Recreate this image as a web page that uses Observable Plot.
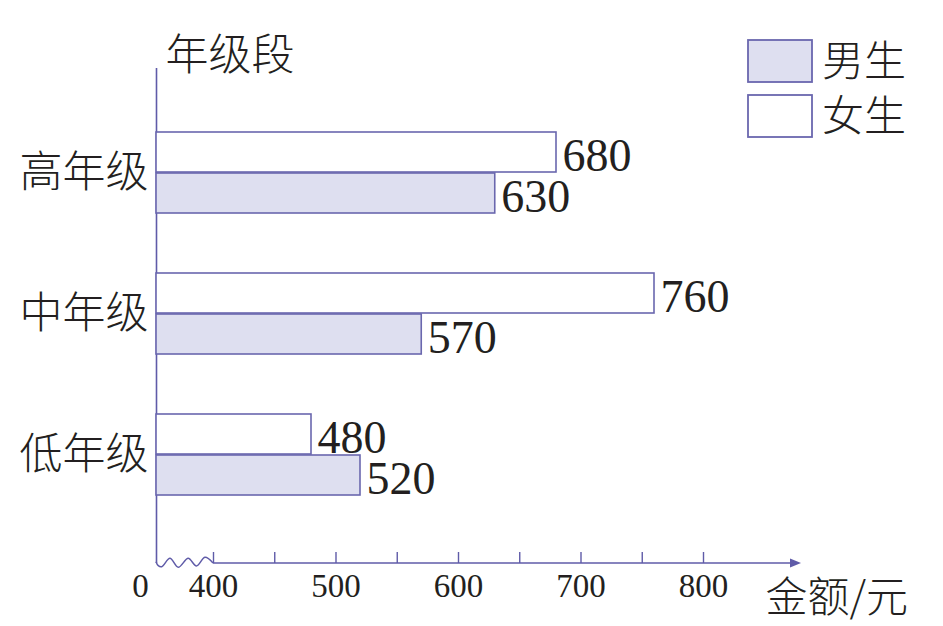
<!DOCTYPE html>
<html>
<head>
<meta charset="utf-8">
<script src="https://cdn.jsdelivr.net/npm/d3@7"></script>
<script src="https://cdn.jsdelivr.net/npm/@observablehq/plot@0.6"></script>
<style>
  html, body { margin: 0; padding: 0; background: #fff; }
  #chart svg { display: block; }
</style>
</head>
<body>
<div id="chart"></div>
<script>
// ---- data ----
const grades = ["高年级", "中年级", "低年级"];
const boys = [630, 570, 520];   // 男生
const girls = [680, 760, 480];  // 女生
const series = ["男生", "女生"];
const minorTicks = [400, 450, 500, 550, 600, 650, 700, 750, 800];
const tickLabels = [400, 500, 600, 700, 800];
const zeroLabel = [0];
const yTitle = "年级段";
const xTitle = "金额/元";

// ---- styles ----
const axisColor = "#5f5ba8";
const barStroke = "#6a67ae";
const boyFill = "#dedff0";
const girlFill = "#ffffff";
const textColor = "#231f20";
const SERIF = "Liberation Serif";
const CJK = "Noto Sans CJK SC";

const boyRows = grades.map((g, i) => ({grade: g, value: boys[i]}));
const girlRows = grades.map((g, i) => ({grade: g, value: girls[i]}));

const W = 943, H = 626;
const mL = 156, mR = 137, mT = 68, mB = 63;
const frameH = H - mT - mB;

const plot = Plot.plot({
  width: W,
  height: H,
  marginLeft: mL,
  marginRight: mR,
  marginTop: mT,
  marginBottom: mB,
  style: {background: "#fff", overflow: "visible", fontFamily: SERIF},
  x: {type: "linear", domain: [0, 400, 880], range: [156, 213, 801], axis: null},
  y: {type: "band", domain: grades, range: [101, 526], padding: 0, axis: null},
  marks: [
    Plot.ruleX([0], {stroke: axisColor, strokeWidth: 1.6}),
    Plot.ruleX(minorTicks, {x: d => d, stroke: axisColor, strokeWidth: 1.4, insetTop: frameH - 11}),
    Plot.barX(girlRows, {x: "value", y: "grade", fill: girlFill, stroke: barStroke, strokeWidth: 1.6, insetTop: 30, insetBottom: 71}),
    Plot.barX(boyRows, {x: "value", y: "grade", fill: boyFill, stroke: barStroke, strokeWidth: 1.6, insetTop: 71, insetBottom: 30}),
    Plot.text(girlRows, {x: "value", y: "grade", text: d => String(d.value), textAnchor: "start", lineAnchor: "middle", dx: 6, dy: -17, fontSize: 46, fill: textColor, fontFamily: SERIF}),
    Plot.text(boyRows, {x: "value", y: "grade", text: d => String(d.value), textAnchor: "start", lineAnchor: "middle", dx: 6, dy: 24, fontSize: 46, fill: textColor, fontFamily: SERIF}),
    Plot.axisY({tickSize: 0, tickPadding: 8, fontSize: 43, color: textColor, label: null, fontFamily: CJK, fontWeight: 300}),
    Plot.text(tickLabels, {x: d => d, text: d => String(d), frameAnchor: "bottom", lineAnchor: "middle", dy: 23, fontSize: 33, fill: textColor, fontFamily: SERIF}),
    Plot.text(zeroLabel, {x: d => d, text: d => String(d), frameAnchor: "bottom", lineAnchor: "middle", dy: 23, dx: -16, fontSize: 33, fill: textColor, fontFamily: SERIF}),
    Plot.text([yTitle], {text: d => d, frameAnchor: "top-left", textAnchor: "start", lineAnchor: "middle", dx: 9, dy: -12, fontSize: 43, fill: textColor, fontFamily: CJK, fontWeight: 300}),
    Plot.text([xTitle], {text: d => d, frameAnchor: "bottom-right", textAnchor: "start", lineAnchor: "middle", dx: -41, dy: 35, fontSize: 42, fill: textColor, fontFamily: CJK, fontWeight: 300})
  ]
});

document.getElementById("chart").appendChild(plot);

const svg = d3.select(plot);

// ---- decorations drawn from the plot's x scale ----
const sx = plot.scale("x").apply;
const yb = H - mB;
const x0 = sx(0), x400 = sx(400), xEnd = sx(880);

svg.append("line")
  .attr("x1", x400).attr("x2", xEnd - 6).attr("y1", yb).attr("y2", yb)
  .attr("stroke", axisColor).attr("stroke-width", 1.6);
svg.append("path")
  .attr("d", `M${xEnd},${yb} L${xEnd - 11},${yb - 4.5} L${xEnd - 11},${yb + 4.5} Z`)
  .attr("fill", axisColor);

const span = x400 - x0;
const zig = [
  [0, -1.3], [0.04, 2.7], [0.1, 3.7], [0.245, -4.7], [0.39, 4.3],
  [0.565, -4.7], [0.71, 3], [0.86, -5.7], [1, 0]
];
svg.append("path")
  .attr("d", d3.line().curve(d3.curveCatmullRom.alpha(0.5))(zig.map(([t, o]) => [x0 + t * span, yb + o])))
  .attr("fill", "none").attr("stroke", axisColor).attr("stroke-width", 1.5);

// legend
const legendFills = [boyFill, girlFill];
const lg = svg.append("g").attr("text-anchor", "start");
series.forEach((s, i) => {
  const top = 40 + i * 55;
  lg.append("rect")
    .attr("x", 748).attr("y", top).attr("width", 64).attr("height", 42)
    .attr("fill", legendFills[i]).attr("stroke", barStroke).attr("stroke-width", 1.8);
  lg.append("text")
    .attr("x", 822).attr("y", top + 21)
    .attr("dy", "0.36em")
    .attr("text-anchor", "start")
    .attr("font-size", 42).attr("fill", textColor)
    .attr("font-family", CJK).attr("font-weight", 300)
    .text(s);
});
</script>
</body>
</html>
